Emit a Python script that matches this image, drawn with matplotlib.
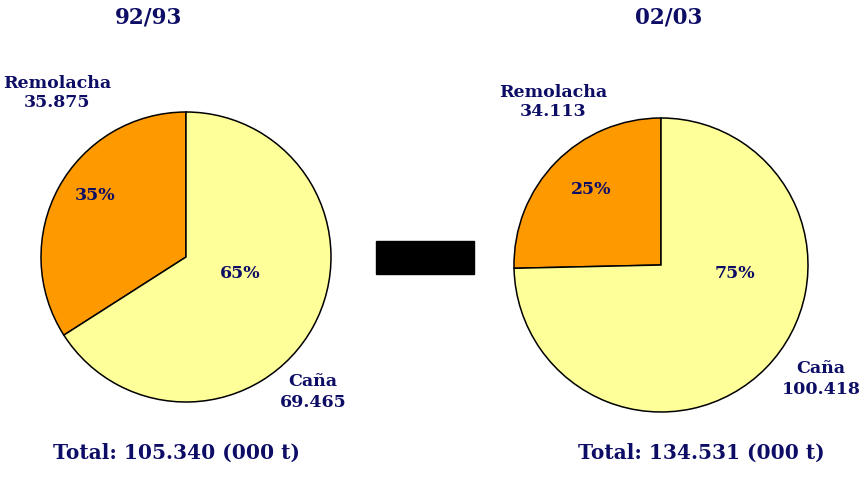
import matplotlib
matplotlib.use("Agg")
import matplotlib.pyplot as plt
from matplotlib.patches import Rectangle

# datos (miles de toneladas)
campanas = ["92/93", "02/03"]
categorias = ["Remolacha", "Caña"]
remolacha = [35.875, 34.113]
cana = [69.465, 100.418]
pct_labels = [["35%", "65%"], ["25%", "75%"]]
totales = ["105.340", "134.531"]
val_labels = [["35.875", "69.465"], ["34.113", "100.418"]]

colores = ["#FF9900", "#FFFF99"]
azul = "#0d0d66"
fuente = "DejaVu Serif"

W, H = 864, 497
fig = plt.figure(figsize=(W / 100, H / 100), dpi=100)
ax = fig.add_axes([0, 0, 1, 1])
ax.set_xlim(0, W)
ax.set_ylim(0, H)
ax.set_aspect("equal")
ax.axis("off")

centros = [(186, H - 257), (661, H - 265)]
radios = [145, 147]
pct_pos = [[(95, 195), (240, 274)], [(591, 190), (735, 274)]]
rem_pos = [(57, 93), (553, 102)]
cana_pos = [(313, 392), (821, 379)]
titulo_x = [149, 669]
total_x = [176, 701]

for i in range(2):
    ax.pie([remolacha[i], cana[i]], colors=colores, startangle=90,
           center=centros[i], radius=radios[i],
           wedgeprops=dict(edgecolor="black", linewidth=1.1))
    for lbl, (x, y) in zip(pct_labels[i], pct_pos[i]):
        ax.text(x, H - y, lbl, ha="center", va="center", color=azul,
                fontsize=12.5, fontweight="bold", family=fuente)
    x, y = rem_pos[i]
    ax.text(x, H - y, f"{categorias[0]}\n{val_labels[i][0]}", ha="center",
            va="center", color=azul, fontsize=12.5, fontweight="bold",
            family=fuente, linespacing=1.2)
    x, y = cana_pos[i]
    ax.text(x, H - y, f"{categorias[1]}\n{val_labels[i][1]}", ha="center",
            va="center", color=azul, fontsize=12.5, fontweight="bold",
            family=fuente, linespacing=1.25)
    ax.text(titulo_x[i], H - 17, campanas[i], ha="center", va="center",
            color=azul, fontsize=15.5, fontweight="bold", family=fuente)
    ax.text(total_x[i], H - 453, f"Total: {totales[i]} (000 t)", ha="center",
            va="center", color=azul, fontsize=14.5, fontweight="bold",
            family=fuente)

ax.set_xlim(0, W)
ax.set_ylim(0, H)

# barra negra entre los dos gráficos
ax.add_patch(Rectangle((376, H - 274), 98, 33, color="black"))

fig.savefig("out.png", dpi=100)
